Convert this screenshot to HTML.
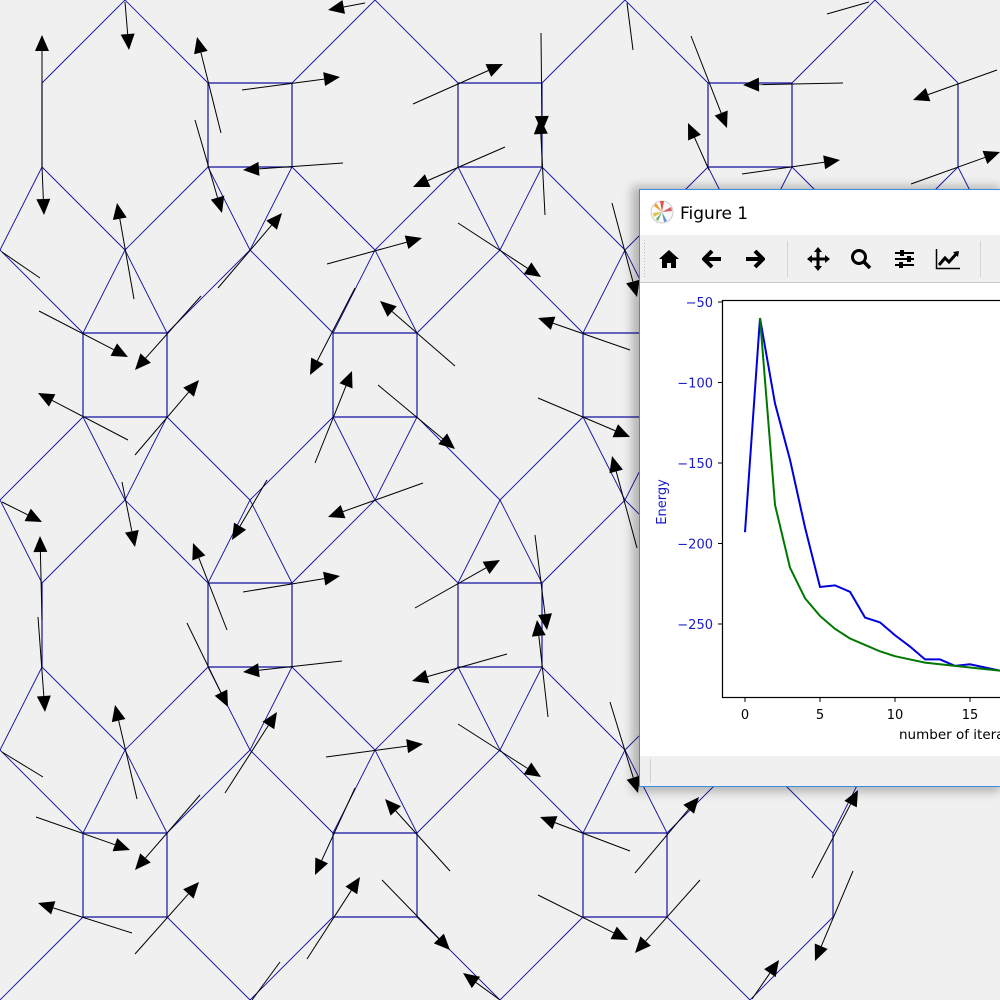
<!DOCTYPE html>
<html><head><meta charset="utf-8">
<style>
html,body{margin:0;padding:0;width:1000px;height:1000px;overflow:hidden;background:#f0f0f0;}
svg{display:block;}
</style></head>
<body>
<svg id="root" width="1000" height="1000" viewBox="0 0 1000 1000" xmlns="http://www.w3.org/2000/svg">
  <defs>
    <filter id="shadow" x="-10%" y="-10%" width="120%" height="120%">
      <feGaussianBlur stdDeviation="5"/>
    </filter>
    <clipPath id="plotclip"><rect x="722" y="300" width="278" height="398"/></clipPath>
    <clipPath id="pageclip"><rect x="0" y="0" width="1000" height="1000"/></clipPath>
  </defs>
  <rect x="0" y="0" width="1000" height="1000" fill="#f0f0f0"/>
  <g clip-path="url(#pageclip)">
  <g id="lattice"></g>
  <g id="arrows"></g>
  </g>

  <g id="window">
    <rect x="632" y="186" width="368" height="606" fill="#000" opacity="0.25" filter="url(#shadow)"/>
    <rect x="639.5" y="189.5" width="370" height="597" fill="#ffffff" stroke="#3c8ce0" stroke-width="1"/>
    <g>
      <circle cx="662" cy="212" r="11" fill="#fafafa" stroke="#ccc" stroke-width="1"/>
      <path d="M662 212 L654 206 L656 203 Z" fill="#e8a030"/>
      <path d="M662 212 L660 201 L664 201 Z" fill="#e05050"/>
      <path d="M662 212 L671 207 L672 211 Z" fill="#d06060"/>
      <path d="M662 212 L654 217 L653 213 Z" fill="#e0c040"/>
      <path d="M662 212 L667 221 L664 222 Z" fill="#6090d0"/>
      <path d="M662 212 L658 221 L656 219 Z" fill="#60b060"/>
    </g>
    <text x="680" y="219" font-family="'DejaVu Sans','Liberation Sans',sans-serif" font-size="17" fill="#000">Figure 1</text>
    <rect x="640" y="235" width="360" height="47" fill="#f0f0f0"/>
    <line x1="640" y1="282.5" x2="1000" y2="282.5" stroke="#c8c8c8" stroke-width="1"/>
    <line x1="644.5" y1="240" x2="644.5" y2="278" stroke="#bbb" stroke-dasharray="1,2"/>
    <line x1="787.5" y1="241" x2="787.5" y2="277" stroke="#d4d4d4"/>
    <line x1="980.5" y1="241" x2="980.5" y2="277" stroke="#d4d4d4"/>
    <g>
      <path d="M659 259 L669 250 L679 259 L676 259 L676 268 L671 268 L671 263 L667 263 L667 268 L662 268 L662 259 Z" fill="#000"/>
    </g>
    <g>
      <path d="M712 251 L704 259 L712 267 M704 259 L721 259" stroke="#000" stroke-width="4" fill="none" stroke-linejoin="round"/>
    </g>
    <g>
      <path d="M755 251 L763 259 L755 267 M763 259 L746 259" stroke="#000" stroke-width="4" fill="none" stroke-linejoin="round"/>
    </g>
    <g>
      <path d="M818 250 L818 269 M809 259 L828 259" stroke="#000" stroke-width="3"/>
      <path d="M818 247 L814 252 L822 252 Z M818 271 L814 266 L822 266 Z M807 259 L812 255 L812 263 Z M830 259 L825 255 L825 263 Z" fill="#000"/>
    </g>
    <g>
      <circle cx="859" cy="257" r="6.5" stroke="#000" stroke-width="3" fill="none"/>
      <path d="M864 262 L870 268" stroke="#000" stroke-width="3.5"/>
    </g>
    <g>
      <path d="M895 253 L914 253 M895 259 L914 259 M895 265 L914 265" stroke="#000" stroke-width="2"/>
      <rect x="900" y="250" width="4" height="6" fill="#000"/><rect x="907" y="256" width="4" height="6" fill="#000"/><rect x="899" y="262" width="4" height="6" fill="#000"/>
    </g>
    <g>
      <path d="M936.5 249 L936.5 268.5 L960 268.5" stroke="#000" stroke-width="1.5" fill="none"/>
      <path d="M939 265 L945 258 L949 262 L957 253" stroke="#000" stroke-width="3" fill="none"/>
      <path d="M959 251 L953 252 L958 257 Z" fill="#000"/>
    </g>
    <rect x="640" y="756" width="360" height="30" fill="#f0f0f0"/>
    <line x1="650.5" y1="759" x2="650.5" y2="783" stroke="#d0d0d0"/>
    <g id="chart"></g>
  </g>
</svg>
<script>
// ---------- chart data ----------
const iterations = [0,1,2,3,4,5,6,7,8,9,10,11,12,13,14,15,16,17,18];
const energyBlue = [-193,-60,-113,-148,-190,-227,-226,-230,-246,-249,-257,-264,-272,-272,-276,-275,-277,-279,-280];
const greenIterations = [1,2,3,4,5,6,7,8,9,10,11,12,13,14,15,16,17,18];
const energyGreen = [-60,-176,-215,-234,-245,-253,-259,-263,-267,-270,-272,-274,-275,-276,-277,-278,-279,-280];
const yTicks = [-50,-100,-150,-200,-250];
const xTicks = [0,5,10,15];

// ---------- arrows (tail x,y -> head x,y) ----------
const arrowTails = [[42,167],[42,167],[125,2],[365,3],[221,133],[242,90],[195,120],[343,163],[413,104],[505,147],[134,299],[218,288],[327,264],[39,311],[201,296],[355,288],[455,366],[128,440],[135,455],[315,463],[378,385],[541,33],[545,215],[691,36],[709,170],[843,83],[742,174],[997,70],[911,184],[423,483],[458,223],[538,398],[630,350],[612,203],[2,502],[42,620],[38,617],[122,482],[227,630],[187,623],[243,592],[342,661],[267,480],[225,793],[137,799],[36,817],[200,795],[132,933],[135,954],[326,757],[415,608],[507,654],[450,871],[355,788],[307,959],[382,880],[535,535],[548,717],[458,724],[630,851],[538,895],[500,1000],[637,548],[610,702],[635,873],[700,880],[812,878],[853,871],[752,999]];
const arrowHeads = [[42,35],[44,215],[129,50],[328,10],[197,37],[340,77],[222,213],[243,170],[503,64],[413,187],[117,203],[282,213],[422,238],[128,357],[135,370],[310,375],[380,301],[38,393],[199,380],[352,371],[455,449],[542,132],[540,118],[727,128],[688,123],[743,85],[840,160],[913,100],[1000,152],[328,517],[541,277],[630,437],[538,318],[637,297],[42,522],[40,536],[45,712],[135,547],[193,543],[228,707],[340,576],[243,672],[232,540],[277,712],[115,705],[130,850],[135,870],[38,903],[199,882],[423,744],[500,560],[412,681],[385,799],[315,875],[360,877],[450,950],[547,630],[537,620],[541,777],[540,817],[628,940],[463,973],[612,456],[638,793],[699,797],[635,953],[858,790],[815,961],[779,960]];
const plainTails = [[40,278],[627,3],[827,14],[43,777],[252,1000]];
const plainHeads = [[2,252],[633,50],[869,2],[2,752],[280,962]];

const NS = "http://www.w3.org/2000/svg";
function mk(tag, attrs, parent){
  const e = document.createElementNS(NS, tag);
  for (const k in attrs) e.setAttribute(k, attrs[k]);
  parent.appendChild(e);
  return e;
}

// ---------- lattice ----------
const lat = document.getElementById('lattice');
function seg(x1,y1,x2,y2,w){
  const l = mk('line',{x1:x1,y1:y1,x2:x2,y2:y2,stroke:'#1010a0','stroke-width':w||0.9},lat);
  
  
}
const h = 42;
for (let i=-1;i<=9;i++){
  for (let j=0;j<=3;j++){
    if (((i+j)%2+2)%2!==0) continue;
    const cx=125*i, cy=125+250*j;
    const L=cx-h, R=cx+h, T=cy-h, B=cy+h;
    if (i===7 && j===3){
      seg(L,T,L,B,1.2); seg(L,T,cx,cy-125); seg(L,T,cx-125,cy-125); seg(L,B,cx-125,cy+125);
      continue;
    }
    if (i===0){
      seg(R,T,R,B,1.2); seg(R,T,cx+125,cy-125); seg(R,B,cx+125,cy+125);
      if (cy-125>0) seg(R,T,cx,cy-125);
      if (cy+125<1000) seg(R,B,cx,cy+125);
      continue;
    }
    if (i===8){
      seg(L,T,L,B,1.2); seg(L,T,cx-125,cy-125); seg(L,B,cx-125,cy+125);
      if (cy-125>0) seg(L,T,cx,cy-125);
      if (cy+125<1000) seg(L,B,cx,cy+125);
      continue;
    }
    if (i<0 || i>8) continue;
    seg(L,T,R,T,1.2); seg(R,T,R,B,1.2); seg(R,B,L,B,1.2); seg(L,B,L,T,1.2);
    seg(L,T,cx-125,cy-125); seg(R,T,cx+125,cy-125);
    seg(L,B,cx-125,cy+125); seg(R,B,cx+125,cy+125);
    if (cy-125>0 && cy-125<1000){ seg(L,T,cx,cy-125); seg(R,T,cx,cy-125); }
    if (cy+125<1000 && cy+125>0){ seg(L,B,cx,cy+125); seg(R,B,cx,cy+125); }
  }
}

// ---------- arrows ----------
const ag = document.getElementById('arrows');
function arrow(t, hd){
  const dx=hd[0]-t[0], dy=hd[1]-t[1], len=Math.hypot(dx,dy)||1;
  const ux=dx/len, uy=dy/len, hl=16, hw=7;
  const bx=hd[0]-ux*hl, by=hd[1]-uy*hl;
  const g = mk('g',{},ag);
  
  
  mk('line',{x1:t[0],y1:t[1],x2:bx,y2:by,stroke:'#000','stroke-width':1},g);
  mk('polygon',{points:`${hd[0]},${hd[1]} ${bx-uy*hw},${by+ux*hw} ${bx+uy*hw},${by-ux*hw}`,fill:'#000'},g);
}
for (let k=0;k<arrowTails.length;k++) arrow(arrowTails[k], arrowHeads[k]);
for (let k=0;k<plainTails.length;k++){
  const l = mk('line',{x1:plainTails[k][0],y1:plainTails[k][1],x2:plainHeads[k][0],y2:plainHeads[k][1],stroke:'#000','stroke-width':1},ag);
  
  
}

// ---------- chart ----------
const ch = document.getElementById('chart');
const xs = v => 745 + 15*v;
const ys = v => 302 + (-50 - v)*1.61;
const font = "'DejaVu Sans','Liberation Sans',sans-serif";
const frame = mk('rect',{x:722.5,y:300.5,width:300,height:397,fill:'#fff',stroke:'#000','stroke-width':1.2},ch);


yTicks.forEach(v=>{
  const y=ys(v);
  mk('line',{x1:718,y1:y,x2:722,y2:y,stroke:'#000'},ch);
  const t = mk('text',{x:713,y:y+5,'text-anchor':'end','font-family':font,'font-size':13,fill:'#1a1acc'},ch);
  t.textContent = '\u2212'+Math.abs(v);
  
  
});
xTicks.forEach(v=>{
  const x=xs(v);
  mk('line',{x1:x,y1:698,x2:x,y2:702,stroke:'#000'},ch);
  const t = mk('text',{x:x,y:719,'text-anchor':'middle','font-family':font,'font-size':13,fill:'#000'},ch);
  t.textContent = String(v);
  
  
});
const xl = mk('text',{x:899,y:739,'font-family':font,'font-size':13.5,fill:'#000'},ch);
xl.textContent = 'number of iterations';


const yl = mk('text',{x:0,y:0,'text-anchor':'middle','font-family':font,'font-size':13,fill:'#1a1acc',transform:'translate(666,502) rotate(-90)'},ch);
yl.textContent = 'Energy';


const pg = mk('g',{'clip-path':'url(#plotclip)'},ch);
const pb = mk('polyline',{points:iterations.map((v,k)=>xs(v)+','+ys(energyBlue[k])).join(' '),fill:'none',stroke:'#0000dd','stroke-width':2},pg);


const pgr = mk('polyline',{points:greenIterations.map((v,k)=>xs(v)+','+ys(energyGreen[k])).join(' '),fill:'none',stroke:'#007700','stroke-width':2},pg);


</script>
</body></html>
